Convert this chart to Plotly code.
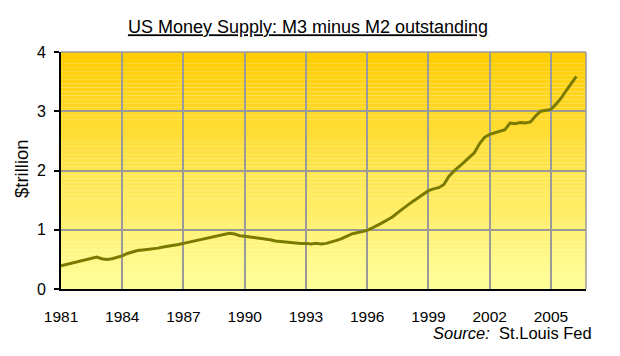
import plotly.graph_objects as go

# ---- data ----
years = [
    1981.00, 1981.25, 1981.50, 1981.75, 1982.00, 1982.25, 1982.50, 1982.75,
    1983.00, 1983.25, 1983.50, 1983.75, 1984.00, 1984.25, 1984.50, 1984.75,
    1985.00, 1985.25, 1985.50, 1985.75, 1986.00, 1986.25, 1986.50, 1986.75,
    1987.00, 1987.25, 1987.50, 1987.75, 1988.00, 1988.25, 1988.50, 1988.75,
    1989.00, 1989.25, 1989.50, 1989.75, 1990.00, 1990.25, 1990.50, 1990.75,
    1991.00, 1991.25, 1991.50, 1991.75, 1992.00, 1992.25, 1992.50, 1992.75,
    1993.00, 1993.25, 1993.50, 1993.75, 1994.00, 1994.25, 1994.50, 1994.75,
    1995.00, 1995.25, 1995.50, 1995.75, 1996.00, 1996.25, 1996.50, 1996.75,
    1997.00, 1997.25, 1997.50, 1997.75, 1998.00, 1998.25, 1998.50, 1998.75,
    1999.00, 1999.25, 1999.50, 1999.75, 2000.00, 2000.25, 2000.50, 2000.75,
    2001.00, 2001.25, 2001.50, 2001.75, 2002.00, 2002.25, 2002.50, 2002.75,
    2003.00, 2003.25, 2003.50, 2003.75, 2004.00, 2004.25, 2004.50, 2004.75,
    2005.00, 2005.25, 2005.50, 2005.75, 2006.00, 2006.25,
]
m3_minus_m2 = [
    0.39, 0.41, 0.43, 0.45, 0.47, 0.49, 0.51, 0.54,
    0.51, 0.50, 0.51, 0.53, 0.56, 0.60, 0.63, 0.65,
    0.66, 0.67, 0.67, 0.69, 0.71, 0.72, 0.74, 0.75,
    0.77, 0.79, 0.81, 0.83, 0.85, 0.87, 0.88, 0.90,
    0.92, 0.94, 0.93, 0.90, 0.89, 0.88, 0.87, 0.86,
    0.85, 0.83, 0.81, 0.80, 0.80, 0.79, 0.78, 0.77,
    0.77, 0.76, 0.77, 0.76, 0.77, 0.79, 0.82, 0.85,
    0.89, 0.93, 0.95, 0.97, 0.99, 1.03, 1.07, 1.12,
    1.17, 1.22, 1.29, 1.36, 1.42, 1.48, 1.54, 1.60,
    1.66, 1.69, 1.71, 1.76, 1.90, 1.99, 2.06, 2.14,
    2.22, 2.30, 2.45, 2.56, 2.61, 2.64, 2.66, 2.69,
    2.80, 2.79, 2.81, 2.80, 2.82, 2.92, 3.00, 3.02,
    3.03, 3.12, 3.22, 3.35, 3.48, 3.59,
]
x_ticks = [1981, 1984, 1987, 1990, 1993, 1996, 1999, 2002, 2005]
y_ticks = [0, 1, 2, 3, 4]

title_text = "US Money Supply: M3 minus M2 outstanding"
y_title = "$trillion"
source_text = "<i>Source:</i>\u00a0 St.Louis Fed"

FONT = "Liberation Sans, Arial, sans-serif"

# page body has an 8px margin; figure geometry accounts for it
W, H = 620, 356
ML, MR, MT, MB = 53, 42, 44, 75
PW, PH = W - ML - MR, H - MT - MB


def px_x(page_x):
    return (page_x - 8 - ML) / PW


def px_y(page_y):
    return (H - MB - (page_y - 8)) / PH


fig = go.Figure()
fig.add_trace(go.Scatter(
    x=years, y=m3_minus_m2, mode="lines",
    line=dict(color="#7a7a00", width=3),
    hoverinfo="skip", showlegend=False,
))

# gradient background: horizontal bands (gold at top to pale yellow at bottom)
top = (255, 204, 0)
bottom = (255, 255, 153)
n = 60
shapes = []
for i in range(n):
    t = (i + 0.5) / n
    c = tuple(round(bottom[k] + (top[k] - bottom[k]) * t) for k in range(3))
    shapes.append(dict(
        type="rect", xref="paper", yref="paper",
        x0=0, x1=1, y0=i / n, y1=(i + 1) / n,
        fillcolor="rgb(%d,%d,%d)" % c, line=dict(width=0), layer="below",
    ))
# gray frame (top and right edges)
shapes.append(dict(type="line", xref="paper", yref="paper", x0=0, x1=1, y0=1, y1=1,
                   line=dict(color="#9a9a9a", width=1.5), layer="above"))
shapes.append(dict(type="line", xref="paper", yref="paper", x0=1, x1=1, y0=0, y1=1,
                   line=dict(color="#9a9a9a", width=1.5), layer="above"))

fig.update_layout(
    width=W, height=H,
    margin=dict(l=ML, r=MR, t=MT, b=MB, autoexpand=False),
    paper_bgcolor="white", plot_bgcolor="rgba(0,0,0,0)",
    font=dict(family=FONT, color="black"),
    shapes=shapes,
    title=dict(
        text=title_text, x=(308 - 8) / W, xanchor="center",
        y=1 - (27 - 8) / H, yanchor="middle",
        font=dict(family=FONT, size=18, color="black", lineposition="under"),
    ),
    annotations=[
        dict(text=y_title, xref="paper", yref="paper", x=px_x(21), y=px_y(168),
             xanchor="center", yanchor="middle", textangle=-90, showarrow=False,
             font=dict(family=FONT, size=18.5, color="black")),
        dict(text=source_text, xref="paper", yref="paper", x=px_x(594), y=px_y(333),
             xanchor="right", yanchor="middle", showarrow=False,
             font=dict(family=FONT, size=16.5, color="black")),
    ],
)
fig.update_xaxes(
    range=[1981, 2006.72], tickmode="array", tickvals=x_ticks,
    ticktext=[str(v) for v in x_ticks],
    showgrid=True, gridcolor="#9a9a9a", gridwidth=1.5,
    showline=True, linecolor="black", linewidth=2,
    ticks="outside", ticklen=12, tickcolor="rgba(0,0,0,0)",
    tickfont=dict(family=FONT, size=15.5), zeroline=False,
)
fig.update_yaxes(
    range=[0, 4], tickmode="array", tickvals=y_ticks,
    showgrid=True, gridcolor="#9a9a9a", gridwidth=1.5,
    showline=True, linecolor="black", linewidth=2,
    ticks="outside", ticklen=5, tickcolor="black", tickwidth=1.5,
    ticklabelstandoff=5,
    tickfont=dict(family=FONT, size=16), zeroline=False,
)

fig.write_html("out.html")
